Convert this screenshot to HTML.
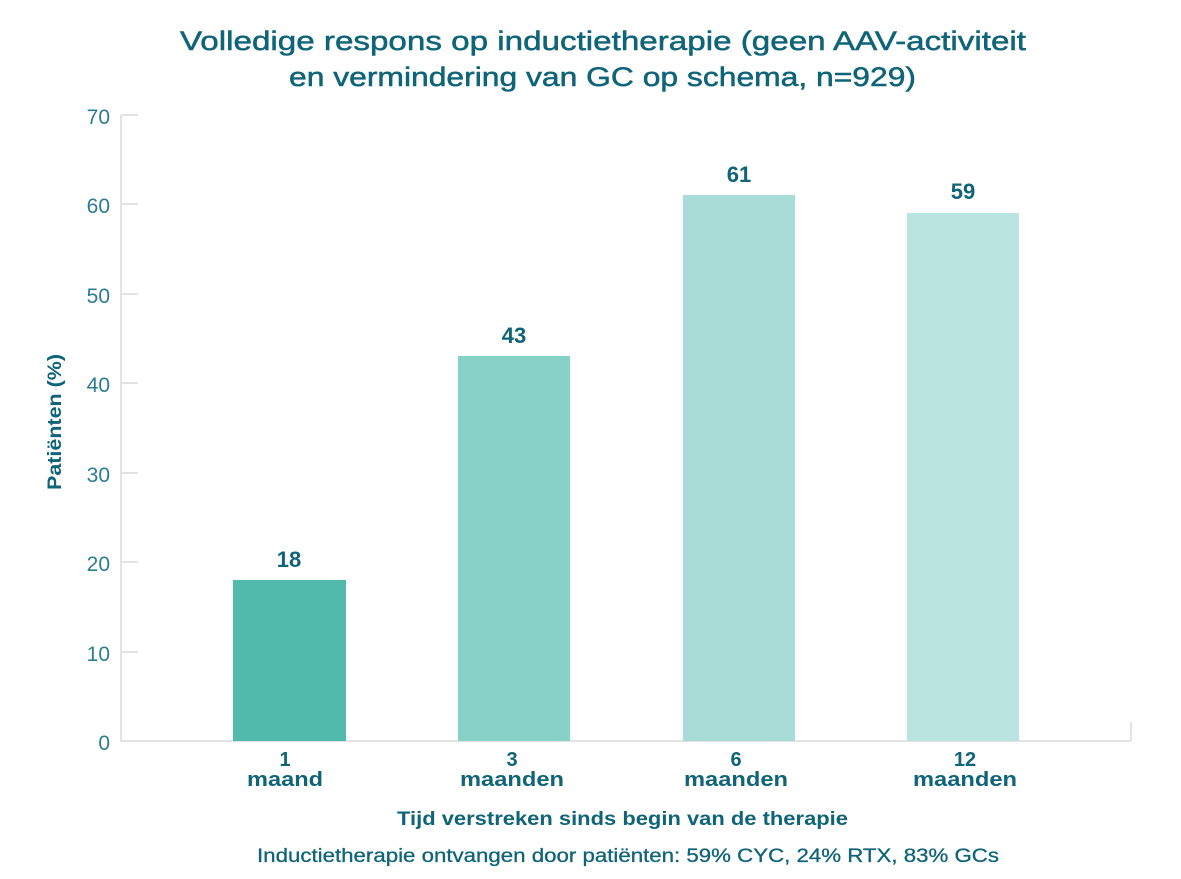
<!DOCTYPE html>
<html><head><meta charset="utf-8"><style>
html,body{margin:0;padding:0;background:#fff;}
svg{display:block;font-family:"Liberation Sans",sans-serif;}
</style></head><body>
<svg width="1181" height="879" viewBox="0 0 1181 879">
<g fill="#0f6478" font-size="27" stroke="#0f6478" stroke-width="0.5">
<text x="180" y="50" textLength="846" lengthAdjust="spacingAndGlyphs">Volledige respons op inductietherapie (geen AAV-activiteit</text>
<text x="289" y="86" textLength="627" lengthAdjust="spacingAndGlyphs">en vermindering van GC op schema, n=929)</text>
</g>
<g stroke="#e3e3e3" stroke-width="2" fill="none">
<line x1="121" y1="115" x2="121" y2="741"/>
<line x1="120" y1="741" x2="1131" y2="741"/>
<line x1="1131" y1="722" x2="1131" y2="741"/>
<line x1="121" y1="115" x2="138" y2="115"/>
<line x1="121" y1="204" x2="138" y2="204"/>
<line x1="121" y1="294" x2="138" y2="294"/>
<line x1="121" y1="383" x2="138" y2="383"/>
<line x1="121" y1="473" x2="138" y2="473"/>
<line x1="121" y1="562" x2="138" y2="562"/>
<line x1="121" y1="652" x2="138" y2="652"/>
</g>
<g fill="#2c7d91" font-size="21" text-anchor="end">
<text x="110" y="124">70</text>
<text x="110" y="213">60</text>
<text x="110" y="303">50</text>
<text x="110" y="392">40</text>
<text x="110" y="482">30</text>
<text x="110" y="571">20</text>
<text x="110" y="661">10</text>
<text x="110" y="750">0</text>
</g>
<rect x="233" y="580" width="113" height="161" fill="#52b9ad"/>
<rect x="458" y="356" width="112" height="385" fill="#87d1c6"/>
<rect x="683" y="195" width="112" height="546" fill="#a8ddd7"/>
<rect x="907" y="213" width="112" height="528" fill="#bae4df"/>
<g fill="#0f6478" font-size="22" font-weight="bold" text-anchor="middle">
<text x="289" y="567">18</text>
<text x="514" y="343">43</text>
<text x="739" y="182">61</text>
<text x="963" y="199">59</text>
</g>
<g fill="#0f6478" font-size="20" font-weight="bold">
<text x="285" y="766" text-anchor="middle">1</text><text x="247" y="786" textLength="76" lengthAdjust="spacingAndGlyphs">maand</text>
<text x="512" y="766" text-anchor="middle">3</text><text x="460" y="786" textLength="104" lengthAdjust="spacingAndGlyphs">maanden</text>
<text x="736" y="766" text-anchor="middle">6</text><text x="684" y="786" textLength="104" lengthAdjust="spacingAndGlyphs">maanden</text>
<text x="965" y="766" text-anchor="middle">12</text><text x="913" y="786" textLength="104" lengthAdjust="spacingAndGlyphs">maanden</text>
</g>
<text x="397" y="825" fill="#0f6478" font-size="19" font-weight="bold" textLength="451" lengthAdjust="spacingAndGlyphs">Tijd verstreken sinds begin van de therapie</text>
<text x="257" y="862" fill="#0f6478" font-size="19" stroke="#0f6478" stroke-width="0.3" textLength="742" lengthAdjust="spacingAndGlyphs">Inductietherapie ontvangen door patiënten: 59% CYC, 24% RTX, 83% GCs</text>
<text transform="translate(61,490) rotate(-90)" fill="#0f6478" font-size="19" font-weight="bold" textLength="136" lengthAdjust="spacingAndGlyphs">Patiënten (%)</text>
</svg>
</body></html>
